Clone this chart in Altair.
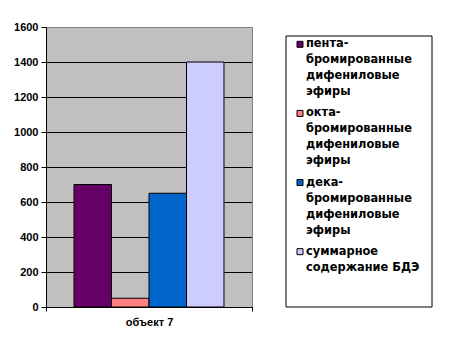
import altair as alt
import pandas as pd

category = "объект 7"
series = [
    "пента-бромированные дифениловые эфиры",
    "окта-бромированные дифениловые эфиры",
    "дека-бромированные дифениловые эфиры",
    "суммарное содержание БДЭ",
]
values = [700, 50, 650, 1400]
colors = ["#660066", "#FF8080", "#0066CC", "#CCCCFF"]
legend_lines = [
    ["пента-", "бромированные", "дифениловые", "эфиры"],
    ["окта-", "бромированные", "дифениловые", "эфиры"],
    ["дека-", "бромированные", "дифениловые", "эфиры"],
    ["суммарное", "содержание БДЭ"],
]
y_ticks = [0, 200, 400, 600, 800, 1000, 1200, 1400, 1600]

AX_FONT = "Liberation Sans, Arial"
LG_FONT = "DejaVu Sans"

bars_df = pd.DataFrame({"cat": [category] * len(series), "series": series, "value": values})
grid_df = pd.DataFrame({"value": y_ticks[1:-1]})

rows = []
r = 0
for s, lines in enumerate(legend_lines):
    for j, t in enumerate(lines):
        rows.append({"series": series[s], "text": t, "pos": r + s * 0.32, "first": j == 0})
        r += 1
leg_df = pd.DataFrame(rows)

W, H = 206, 280

y_axis = alt.Axis(
    title=None, values=y_ticks, format="d", labelOverlap=False, grid=False,
    tickSize=5, tickColor="black",
    domainColor="black", labelFont=AX_FONT, labelFontSize=11, labelFontWeight="bold",
    labelColor="black", labelPadding=3,
)
y_scale = alt.Scale(domain=[0, 1600])

grid = alt.Chart(grid_df).mark_rule(color="black", strokeWidth=1, yOffset=0.5).encode(
    x=alt.value(0), x2=alt.value(W),
    y=alt.Y("value:Q", scale=y_scale, axis=y_axis),
)

bars = alt.Chart(bars_df).mark_bar(stroke="black", strokeWidth=1, opacity=1).encode(
    x=alt.X(
        "cat:N",
        scale=alt.Scale(paddingInner=0, paddingOuter=0),
        axis=alt.Axis(
            title=None, labelAngle=0, tickBand="extent", tickSize=4, tickColor="black",
            domainColor="black", labelFont=AX_FONT, labelFontSize=11, labelFontWeight="bold",
            labelColor="black", labelPadding=5,
        ),
    ),
    xOffset=alt.XOffset("series:N", sort=series, scale=alt.Scale(paddingInner=0, paddingOuter=0.747)),
    y=alt.Y("value:Q", scale=y_scale, axis=y_axis),
    color=alt.Color("series:N", sort=series, scale=alt.Scale(domain=series, range=colors), legend=None),
)

bar_chart = alt.layer(grid, bars).properties(
    width=W, height=H,
    view=alt.ViewBackground(fill="#C0C0C0", stroke="#808080", strokeWidth=1),
)

LW, LH = 146, 280
box_top = 9
line_h = 16.0
first_off = 8.3
ydom = [-(box_top + first_off) / line_h, (LH - box_top - first_off) / line_h]
yscale = alt.Scale(domain=ydom, reverse=True, nice=False, zero=False)

box = alt.Chart(pd.DataFrame({"k": [0]})).mark_rect(fill="white", stroke="black", strokeWidth=1).encode(
    x=alt.value(0), x2=alt.value(LW), y=alt.value(box_top), y2=alt.value(LH)
)
squares = alt.Chart(leg_df).transform_filter("datum.first").mark_square(
    size=36, stroke="black", strokeWidth=1, opacity=1
).encode(
    x=alt.value(14),
    y=alt.Y("pos:Q", scale=yscale, axis=None),
    fill=alt.Fill("series:N", sort=series, scale=alt.Scale(domain=series, range=colors), legend=None),
)
texts = alt.Chart(leg_df).mark_text(
    align="left", baseline="middle", font=LG_FONT, fontSize=11.4, fontWeight="bold", color="black"
).encode(
    x=alt.value(20),
    y=alt.Y("pos:Q", scale=yscale, axis=None),
    text="text:N",
)
legend_chart = alt.layer(box, squares, texts).properties(
    width=LW, height=LH, view=alt.ViewBackground(stroke=None, fill=None)
).resolve_scale(y="shared")

chart = alt.hconcat(bar_chart, legend_chart, spacing=32).properties(
    padding={"left": 5, "top": 12, "right": 5, "bottom": 5},
    background="white",
).configure_view(stroke=None)

chart.save("out.html", embed_options={"renderer": "svg", "actions": False})
